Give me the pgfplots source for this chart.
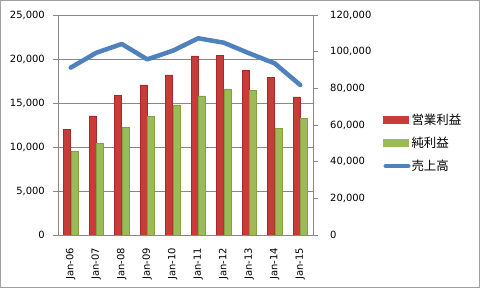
\documentclass[border=0pt]{standalone}
\usepackage{fontspec}
\setmainfont{DejaVu Sans}
\newfontfamily\jp{Noto Sans CJK JP}
\usepackage{pgfplots}
\usepackage{pgfplotstable}
\pgfplotsset{compat=1.18}

\definecolor{opred}{HTML}{C73B38}
\definecolor{opreddk}{HTML}{A32B28}
\definecolor{netgr}{HTML}{9BBB59}
\definecolor{netgrdk}{HTML}{82A143}
\definecolor{salesbl}{HTML}{4F81BD}
\definecolor{gridgr}{HTML}{878787}

% year, operating profit, net profit, sales
\pgfplotstableread{
x  op     net    sales
0  12000  9500   91300
1  13550  10400  99400
2  15900  12300  104200
3  17050  13450  95800
4  18200  14800  100500
5  20350  15800  107300
6  20450  16600  104900
7  18750  16450  99100
8  17900  12100  93600
9  15700  13250  81800
}\datatable

\pgfplotsset{
  common/.style={
    at={(58bp,53bp)}, anchor=south west,
    scale only axis, width=255bp, height=220bp,
    xmin=-0.5, xmax=9.5,
    axis line style={gridgr, line width=0.8bp},
    tick style={gridgr, line width=0.8bp},
    tick align=outside,
    major tick length=5bp,
    ticklabel style={font=\fontsize{10}{12}\selectfont, text=black},
    /pgf/number format/assume math mode=true,
    /pgf/number format/fixed,
    /pgf/number format/1000 sep={,},
    scaled y ticks=false,
  },
}

\begin{document}
\begin{tikzpicture}
\useasboundingbox (0,0) rectangle (480bp,288bp);
\fill[white] (0,0) rectangle (480bp,288bp);
\draw[gray!75, line width=1bp] (0.5bp,0.5bp) rectangle (479.5bp,287.5bp);

% profits, left axis
\begin{axis}[common,
  axis x line*=bottom, axis y line*=left,
  ymin=0, ymax=25000, ytick={0,5000,...,25000},
  ymajorgrids, grid style={gridgr, line width=0.8bp},
  xtick={0,...,9},
  xticklabels={Jan-06,Jan-07,Jan-08,Jan-09,Jan-10,Jan-11,Jan-12,Jan-13,Jan-14,Jan-15},
  xtick style={draw=none},
  minor xtick={-0.5,0.5,...,9.5},
  minor tick length=5bp,
  xticklabel style={rotate=90, anchor=east, inner sep=0pt},
  xticklabel shift=8bp,
  yticklabel style={inner sep=0pt},
  yticklabel shift=8bp,
  ybar=0.3bp, bar width=6.9bp,
]
\addplot[draw=opreddk, line width=0.4bp, fill=opred]
  table[x=x, y=op] {\datatable};
\addplot[draw=netgrdk, line width=0.4bp, fill=netgr]
  table[x=x, y=net] {\datatable};
\end{axis}

% sales, right axis
\begin{axis}[common,
  axis x line=none, axis y line*=right,
  ymin=0, ymax=120000, ytick={0,20000,...,120000},
  yticklabel style={inner sep=0pt, anchor=west, xshift=4bp},
  yticklabel shift=8bp,
  legend style={at={(1.275,0.418)}, anchor=west, draw=none, fill=none,
    row sep=9bp, inner sep=0pt,
    nodes={text=black, font=\jp\fontsize{12.5}{14}\selectfont, inner sep=1bp}},
  legend cell align=left,
]
\addlegendimage{legend image code/.code={
  \fill[opred] (0bp,-3.5bp) rectangle (25bp,3.5bp);}}
\addlegendentry{営業利益}
\addlegendimage{legend image code/.code={
  \fill[netgr] (0bp,-3.5bp) rectangle (25bp,3.5bp);}}
\addlegendentry{純利益}
\addlegendimage{legend image code/.code={
  \draw[salesbl, line width=4bp, line cap=round] (2bp,0) -- (25bp,0);}}
\addlegendentry{売上高}
\addplot[salesbl, line width=4.5bp, line join=round, line cap=round, mark=none]
  table[x=x, y=sales] {\datatable};
\end{axis}
\end{tikzpicture}
\end{document}
